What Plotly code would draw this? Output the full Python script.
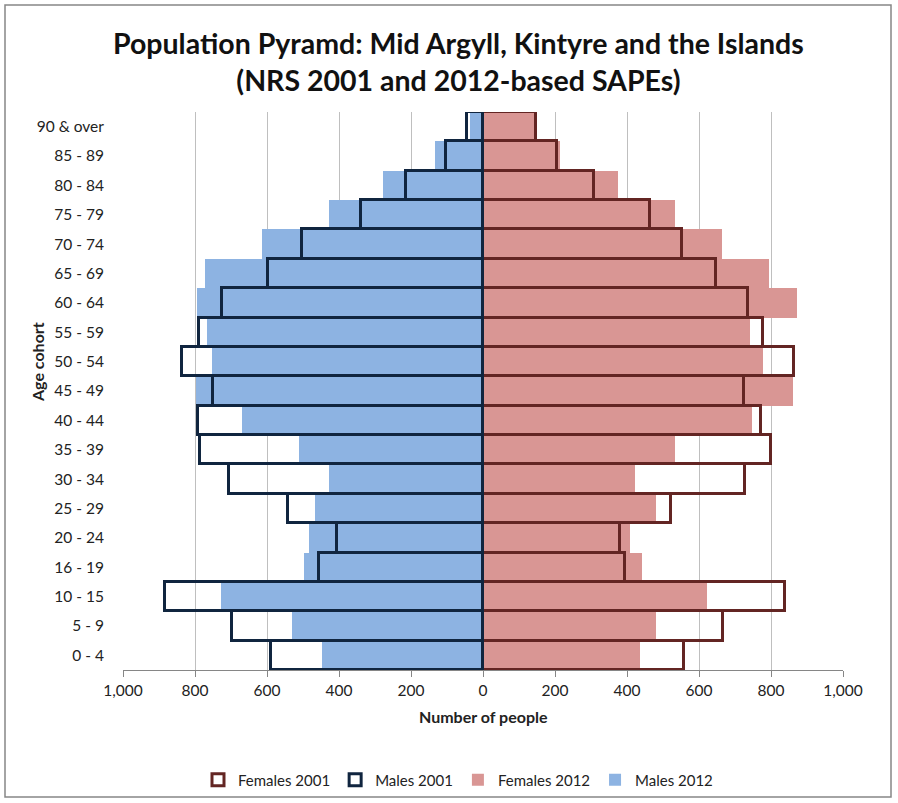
import plotly.graph_objects as go

age_groups = ["0 - 4", "5 - 9", "10 - 15", "16 - 19", "20 - 24", "25 - 29", "30 - 34",
              "35 - 39", "40 - 44", "45 - 49", "50 - 54", "55 - 59", "60 - 64",
              "65 - 69", "70 - 74", "75 - 79", "80 - 84", "85 - 89", "90 & over"]

females_2001 = [559, 666, 839, 394, 381, 521, 728, 799, 771, 725, 865, 779, 737, 647, 552, 464, 309, 206, 147]
females_2012 = [436, 481, 621, 441, 408, 480, 422, 532, 748, 860, 777, 742, 871, 795, 663, 532, 374, 214, 145]
males_2001 = [590, 696, 884, 455, 406, 541, 705, 786, 791, 749, 836, 789, 726, 596, 504, 339, 214, 103, 44]
males_2012 = [448, 530, 728, 497, 484, 468, 428, 511, 669, 798, 754, 768, 794, 772, 615, 428, 279, 132, 36]

tick_vals = [-1000, -800, -600, -400, -200, 0, 200, 400, 600, 800, 1000]
tick_text = ["1,000", "800", "600", "400", "200", "0", "200", "400", "600", "800", "1,000"]

FONT = "Lato"
PINK = "#D99694"
BLUE = "#8DB3E2"
DARKRED = "#632523"
NAVY = "#10253F"

fig = go.Figure()
fig.add_trace(go.Bar(y=age_groups, x=females_2012, orientation="h", name="Females 2012",
                     marker=dict(color=PINK, line=dict(width=0)), legendrank=3))
fig.add_trace(go.Bar(y=age_groups, x=[-v for v in males_2012], orientation="h", name="Males 2012",
                     marker=dict(color=BLUE, line=dict(width=0)), legendrank=4))
fig.add_trace(go.Bar(y=age_groups, x=females_2001, orientation="h", name="Females 2001",
                     marker=dict(color="rgba(0,0,0,0)", line=dict(color=DARKRED, width=3)), legendrank=1))
fig.add_trace(go.Bar(y=age_groups, x=[-v for v in males_2001], orientation="h", name="Males 2001",
                     marker=dict(color="rgba(0,0,0,0)", line=dict(color=NAVY, width=3)), legendrank=2))

L, R, T, B = 123, 843, 112, 670
W, H = 898, 803
pw, ph = R - L, B - T


def px(x):
    return (x - L) / pw


def py(y):
    return (B - y) / ph


fig.update_layout(
    width=W, height=H,
    margin=dict(l=L, r=W - R, t=T, b=H - B, autoexpand=False),
    barmode="overlay", bargap=0,
    plot_bgcolor="white", paper_bgcolor="white",
    font=dict(family=FONT, size=15, color="#222222"),
    showlegend=True,
    legend=dict(orientation="h", x=px(458), xanchor="center", y=py(780), yanchor="middle",
                font=dict(size=15, family=FONT), traceorder="normal", itemwidth=30,
                bgcolor="rgba(0,0,0,0)"),
    xaxis=dict(range=[-1000, 1000], tickvals=tick_vals, ticktext=tick_text,
               showgrid=True, gridcolor="#BFBFBF", gridwidth=1, zeroline=False,
               showline=True, linecolor="#868686", linewidth=1,
               ticks="outside", ticklen=6, tickcolor="#868686",
               tickfont=dict(size=15.5, family=FONT), automargin=False),
    yaxis=dict(range=[-0.5, 18.5], showgrid=False, zeroline=False, showline=False,
               ticks="outside", ticklen=15, tickcolor="rgba(0,0,0,0)",
               tickfont=dict(size=15.5, family=FONT), automargin=False),
    annotations=[
        dict(text="<b>Population Pyramd: Mid Argyll, Kintyre and the Islands</b><br><b>(NRS 2001 and 2012-based SAPEs)</b>",
             x=px(458), y=py(62), xref="paper", yref="paper", showarrow=False,
             xanchor="center", yanchor="middle", font=dict(size=28.5, family=FONT, color="#111111")),
        dict(text="<b>Number of people</b>", x=px(483), y=py(716), xref="paper", yref="paper",
             showarrow=False, xanchor="center", yanchor="middle", font=dict(size=16, family=FONT)),
        dict(text="<b>Age cohort</b>", x=px(37), y=py(362), xref="paper", yref="paper",
             showarrow=False, xanchor="center", yanchor="middle", textangle=-90,
             font=dict(size=16, family=FONT)),
    ],
    shapes=[
        dict(type="rect", xref="paper", yref="paper", x0=px(5), x1=px(891), y0=py(5), y1=py(797),
             line=dict(color="#868686", width=1.5), fillcolor="rgba(0,0,0,0)", layer="below"),
    ],
)

fig.write_html("out.html", config={"displayModeBar": False},
               post_script="document.body.style.margin='0';document.body.style.overflow='hidden';")
